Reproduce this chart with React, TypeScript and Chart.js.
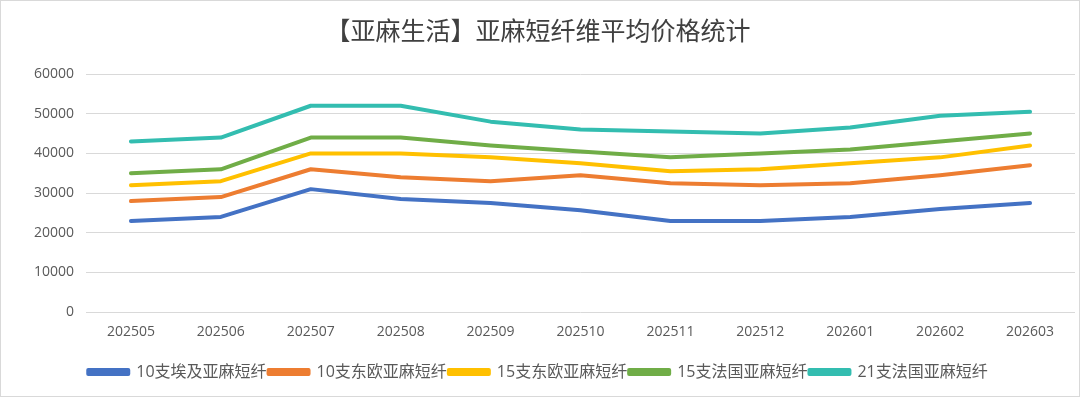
import React, { useEffect, useRef } from "react";
import { Chart, registerables } from "chart.js";

Chart.register(...registerables);

const titleText = "【亚麻生活】亚麻短纤维平均价格统计";
const months = ["202505", "202506", "202507", "202508", "202509", "202510", "202511", "202512", "202601", "202602", "202603"];
const seriesNames = ["10支埃及亚麻短纤", "10支东欧亚麻短纤", "15支东欧亚麻短纤", "15支法国亚麻短纤", "21支法国亚麻短纤"];
const egypt10 = [23000, 24000, 31000, 28500, 27500, 25700, 23000, 23000, 24000, 26000, 27500];
const eastEurope10 = [28000, 29000, 36000, 34000, 33000, 34500, 32500, 32000, 32500, 34500, 37000];
const eastEurope15 = [32000, 33000, 40000, 40000, 39000, 37500, 35500, 36000, 37500, 39000, 42000];
const france15 = [35000, 36000, 44000, 44000, 42000, 40500, 39000, 40000, 41000, 43000, 45000];
const france21 = [43000, 44000, 52000, 52000, 48000, 46000, 45500, 45000, 46500, 49500, 50500];
const seriesColors = ["#4472C4", "#ED7D31", "#FFC000", "#70AD47", "#33BDB0"];

const FONT = '"Open Sans", "Noto Sans CJK SC", sans-serif';

export default function App() {
  const ref = useRef<HTMLCanvasElement | null>(null);
  useEffect(() => {
    document.body.style.margin = "0";
    const values = [egypt10, eastEurope10, eastEurope15, france15, france21];
    const chart = new Chart(ref.current as HTMLCanvasElement, {
      type: "line",
      data: {
        labels: months,
        datasets: values.map((v, i) => ({
          label: seriesNames[i],
          data: v,
          borderColor: seriesColors[i],
          backgroundColor: seriesColors[i],
          borderWidth: 4,
          pointRadius: 0,
          tension: 0,
          borderCapStyle: "round" as const,
          borderJoinStyle: "round" as const,
        })),
      },
      options: {
        animation: false,
        responsive: false,
        maintainAspectRatio: false,
        layout: { padding: { left: 0, right: 4, top: 14, bottom: 6 } },
        plugins: {
          title: {
            display: true,
            text: titleText,
            color: "#404040",
            font: { family: '"Noto Sans CJK SC", sans-serif', size: 25, weight: "normal" },
            padding: { top: 0, bottom: 29 },
          },
          legend: {
            position: "bottom",
            labels: {
              boxWidth: 40,
              boxHeight: 4,
              color: "#595959",
              font: { family: FONT, size: 16 },
              padding: 2,
            },
          },
          tooltip: { enabled: false },
        },
        scales: {
          x: {
            offset: true,
            afterFit: (s: any) => { s.height += 11; },
            grid: { display: false, drawTicks: false },
            border: { display: false },
            ticks: { color: "#595959", font: { family: FONT, size: 14 }, padding: 11, maxRotation: 0 },
          },
          y: {
            min: 0,
            max: 60000,
            afterFit: (s: any) => { s.width = 85; },
            grid: { color: "#D9D9D9", lineWidth: 1, drawTicks: false },
            border: { display: false },
            ticks: {
              stepSize: 10000,
              color: "#595959",
              font: { family: FONT, size: 14 },
              padding: 12,
              callback: (v: any) => String(v),
            },
          },
        },
      },
    });
    return () => chart.destroy();
  }, []);
  return (
    <div style={{ position: "absolute", left: 0, top: 0, width: 1080, height: 397, boxSizing: "border-box", border: "1px solid #D9D9D9", background: "#fff" }}>
      <canvas ref={ref} width={1078} height={395} style={{ display: "block" }} />
    </div>
  );
}
